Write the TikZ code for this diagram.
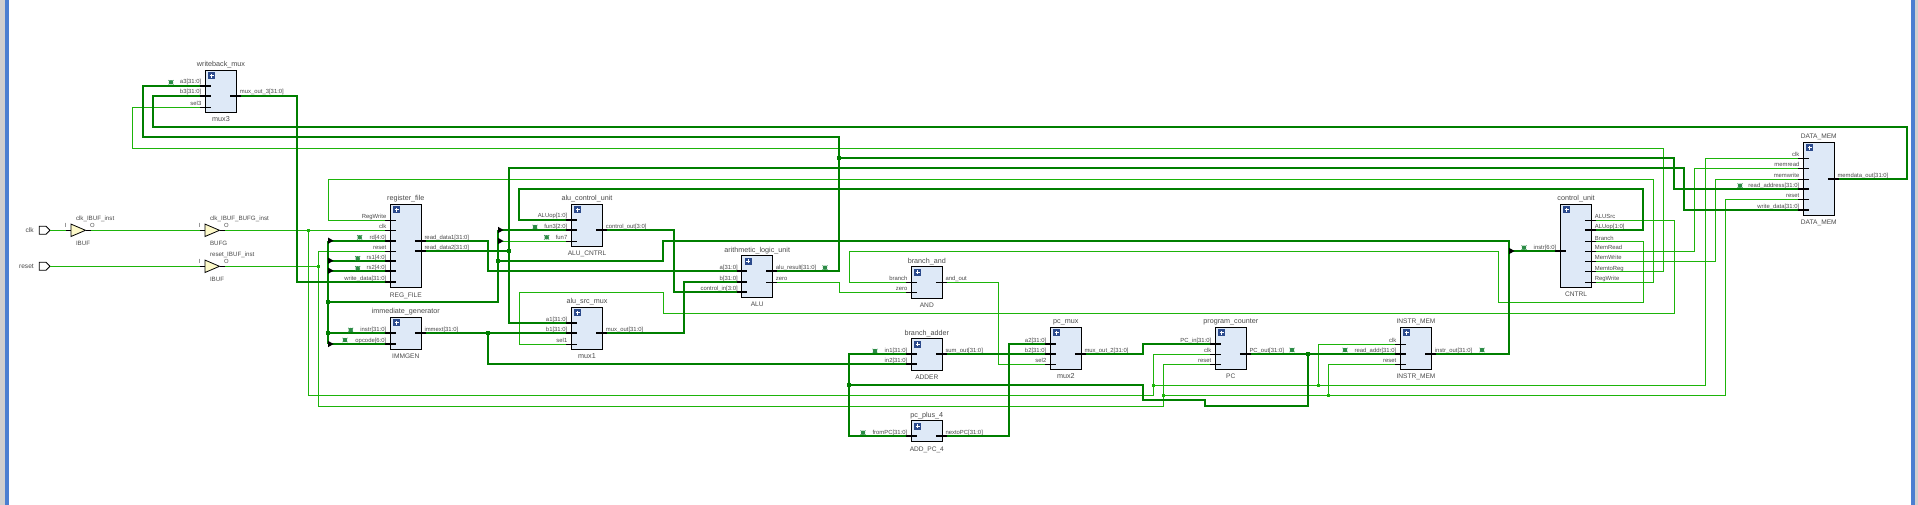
\documentclass[tikz,border=0pt]{standalone}
\usepackage{fontspec}
\setmainfont{Liberation Sans}
\definecolor{wthin}{HTML}{1DB40A}
\definecolor{wthick}{HTML}{007F00}
\definecolor{blockfill}{HTML}{DEE9F7}
\definecolor{plusfill}{HTML}{2B4A8C}
\definecolor{bufill}{HTML}{FDF9C9}
\definecolor{edgeblue}{HTML}{4B7FD1}
\definecolor{edgegray}{HTML}{CFCFCF}
\definecolor{txt}{HTML}{4A4A4A}
\definecolor{bugc}{HTML}{2C8C46}
\tikzset{
  wsig/.style={draw=wthin,line width=0.9pt},
  wbus/.style={draw=wthick,line width=1.95pt},
  sigstub/.style={draw=black,line width=0.75pt},
  busstub/.style={draw=black,line width=1.95pt},
  blockbox/.style={draw=black,fill=blockfill,line width=0.9pt,inner sep=0pt,outer sep=0pt},
  plusbox/.style={fill=plusfill,minimum size=7pt,inner sep=0pt,outer sep=0pt},
  pinlabel/.style={text=txt,inner sep=0pt,outer sep=0pt,font=\fontsize{5.9}{6}\selectfont},
  titlelabel/.style={text=txt,inner sep=0pt,outer sep=0pt,font=\fontsize{7.2}{8}\selectfont},
  jsig/.style={fill=wthin,minimum size=3pt,inner sep=0pt,outer sep=0pt},
  jbus/.style={fill=wthick,minimum size=4pt,inner sep=0pt,outer sep=0pt},
  bugdot/.style={circle,fill=bugc,minimum size=4.4pt,inner sep=0pt,outer sep=0pt},
}
% block: name,x1,y1,x2,y2,title,bottom
\newcommand\blockat[7]{%
  \node[blockbox,minimum width={(#4-#2)*1pt},minimum height={(#5-#3)*1pt}] (#1) at ({(#2+#4)/2},{(#3+#5)/2}) {};
  \node[plusbox] (#1-plus) at (#2+6.5,#3+5.5) {};
  \draw[white,line width=1pt] (#2+4.3,#3+5.5) -- (#2+8.7,#3+5.5) (#2+6.5,#3+3.3) -- (#2+6.5,#3+7.7);
  \node[titlelabel,anchor=base] (#1-title) at ({(#2+#4)/2},#3-3.5) {#6};
  \node[titlelabel,anchor=base] (#1-name) at ({(#2+#4)/2},#5+9.5) {#7};
}
\newcommand\capsname[1]{{\fontsize{6.6}{8}\selectfont #1}}
% pin on left: coordinate,edge,y,label,kind
\newcommand\pinL[5]{%
  \coordinate (#1) at (#2-5,#3);
  \draw[#5stub] (#2-5,#3) -- (#2+5.5,#3);
  \node[pinlabel,anchor=base east] (#1-label) at (#2-4,#3-1.7) {#4};
}
\newcommand\pinR[5]{%
  \coordinate (#1) at (#2+4.5,#3);
  \draw[#5stub] (#2-6.5,#3) -- (#2+4.5,#3);
  \node[pinlabel,anchor=base west] (#1-label) at (#2+3.2,#3-1.7) {#4};
}
\newcommand\debugbug[3]{%
  \draw[bugc,line width=0.7pt] (#2-2.5,#3-2.2) -- (#2+2.5,#3+2.2) (#2-2.5,#3+2.2) -- (#2+2.5,#3-2.2);
  \node[bugdot] (#1) at (#2,#3) {};
}
\newcommand\ripper[2]{%
  \fill[black] (#1,#2-3.2) -- (#1+5.5,#2) -- (#1,#2+3.2) -- cycle;
}
% buffer: name,x,y,title,bottom
\newcommand\bufsym[5]{%
  \coordinate (#1i) at (#2-5,#3);
  \coordinate (#1o) at (#2+20,#3);
  \draw[sigstub] (#2-5,#3) -- (#2,#3) (#2+14.5,#3) -- (#2+20,#3);
  \draw[draw=black,fill=bufill,line width=0.8pt,line join=miter] (#2,#3-6.2) -- (#2+14.5,#3) -- (#2,#3+6.2) -- cycle;
  \node[pinlabel,anchor=center] (#1-i) at (#2-5.3,#3-5.3) {I};
  \node[pinlabel,anchor=center] (#1-o) at (#2+21.3,#3-5.3) {O};
  \node[pinlabel,anchor=base west,font=\fontsize{6.2}{7}\selectfont] (#1-title) at (#2+5,#3-9.7) {#4};
  \node[pinlabel,anchor=base west,font=\fontsize{6.2}{7}\selectfont] (#1-name) at (#2+5,#3+15) {#5};
}
% input port: name,y,label
\newcommand\inport[3]{%
  \draw[black,fill=white,line width=0.8pt] (39.3,#2-4) -- (46,#2-4) -- (50,#2) -- (46,#2+4) -- (39.3,#2+4) -- cycle;
  \coordinate (#1) at (50,#2);
  \node[pinlabel,anchor=east,font=\fontsize{6.6}{7}\selectfont] (#1-label) at (33.8,#2+0.3) {#3};
}
\begin{document}
\begin{tikzpicture}[x=1pt,y=-1pt]
\useasboundingbox (0,0) rectangle (1918,505);
\fill[white] (0,0) rectangle (1918,505);
\fill[edgegray] (0,0) rectangle (5,505);
\fill[edgeblue] (5,0) rectangle (9,505);
\fill[edgeblue] (1911,0) rectangle (1915,505);
\fill[edgegray] (1915,0) rectangle (1918,505);

% blocks
\blockat{mux3}{205.3}{70.3}{236.7}{112.3}{writeback\_mux}{mux3}
\blockat{rf}{390.3}{204.3}{421.3}{287.7}{register\_file}{\capsname{REG\_FILE}}
\blockat{ig}{390.3}{317.3}{421.3}{349.3}{immediate\_generator}{\capsname{IMMGEN}}
\blockat{ac}{571.3}{204.3}{602.7}{246.3}{alu\_control\_unit}{\capsname{ALU\_CNTRL}}
\blockat{mux1}{571.3}{307.3}{602.7}{349.3}{alu\_src\_mux}{mux1}
\blockat{alu}{741.7}{255.7}{772.7}{297.3}{arithmetic\_logic\_unit}{\capsname{ALU}}
\blockat{and}{911.3}{266.7}{942.3}{298.3}{branch\_and}{\capsname{AND}}
\blockat{add}{911.3}{338.7}{942.3}{370.3}{branch\_adder}{\capsname{ADDER}}
\blockat{pcp}{911.3}{420.7}{942.3}{441.7}{pc\_plus\_4}{\capsname{ADD\_PC\_4}}
\blockat{mux2}{1050.3}{327.3}{1081.3}{369.3}{pc\_mux}{mux2}
\blockat{pc}{1215.3}{327.3}{1246.3}{369.3}{program\_counter}{\capsname{PC}}
\blockat{im}{1400.3}{327.3}{1431.7}{369.3}{\capsname{INSTR\_MEM}}{\capsname{INSTR\_MEM}}
\blockat{cu}{1560.3}{204.3}{1591.7}{287.3}{control\_unit}{\capsname{CNTRL}}
\blockat{dm}{1803.3}{142.3}{1834.3}{215.3}{\capsname{DATA\_MEM}}{\capsname{DATA\_MEM}}

% buffers and ports
\bufsym{ibc}{71}{230.3}{clk\_IBUF\_inst}{IBUF}
\bufsym{bg}{205}{230.3}{clk\_IBUF\_BUFG\_inst}{BUFG}
\bufsym{ibr}{205}{266.3}{reset\_IBUF\_inst}{IBUF}
\inport{clkin}{230.3}{clk}
\inport{rstin}{266.3}{reset}

% pins
\pinL{mta}{205.3}{85.7}{a3[31:0]}{bus}
\pinL{mtb}{205.3}{95.7}{b3[31:0]}{bus}
\pinL{mts}{205.3}{107.3}{sel3}{sig}
\pinR{mto}{236.7}{95.7}{mux\_out\_3[31:0]}{bus}

\pinL{rfrw}{390.3}{220.3}{RegWrite}{sig}
\pinL{rfclk}{390.3}{230.3}{clk}{sig}
\pinL{rfrd}{390.3}{240.7}{rd[4:0]}{bus}
\pinL{rfrst}{390.3}{251.3}{reset}{sig}
\pinL{rfrsa}{390.3}{260.7}{rs1[4:0]}{bus}
\pinL{rfrsb}{390.3}{270.7}{rs2[4:0]}{bus}
\pinL{rfwd}{390.3}{281.7}{write\_data[31:0]}{bus}
\pinR{rfra}{421.3}{240.7}{read\_data1[31:0]}{bus}
\pinR{rfrb}{421.3}{250.7}{read\_data2[31:0]}{bus}

\pinL{igi}{390.3}{333}{instr[31:0]}{bus}
\pinL{igop}{390.3}{344}{opcode[6:0]}{bus}
\pinR{igo}{421.3}{333}{immext[31:0]}{bus}

\pinL{acop}{571.3}{219.7}{ALUop[1:0]}{bus}
\pinL{acfa}{571.3}{230}{fun3[2:0]}{bus}
\pinL{acfb}{571.3}{241}{fun7}{sig}
\pinR{aco}{602.7}{230}{control\_out[3:0]}{bus}

\pinL{moa}{571.3}{323}{a1[31:0]}{bus}
\pinL{mob}{571.3}{333}{b1[31:0]}{bus}
\pinL{mos}{571.3}{344.3}{sel1}{sig}
\pinR{moo}{602.7}{333}{mux\_out[31:0]}{bus}

\pinL{alua}{741.7}{270.7}{a[31:0]}{bus}
\pinL{alub}{741.7}{281.7}{b[31:0]}{bus}
\pinL{aluc}{741.7}{292}{control\_in[3:0]}{bus}
\pinR{alur}{772.7}{270.7}{alu\_result[31:0]}{bus}
\pinR{aluz}{772.7}{282.3}{zero}{sig}

\pinL{andb}{911.3}{282.3}{branch}{sig}
\pinL{andz}{911.3}{292.3}{zero}{sig}
\pinR{ando}{942.3}{282.3}{and\_out}{sig}

\pinL{adda}{911.3}{354}{in1[31:0]}{bus}
\pinL{addb}{911.3}{364}{in2[31:0]}{bus}
\pinR{addo}{942.3}{354}{sum\_out[31:0]}{bus}

\pinL{pcpi}{911.3}{436}{fromPC[31:0]}{bus}
\pinR{pcpo}{942.3}{436}{nextoPC[31:0]}{bus}

\pinL{mwa}{1050.3}{344}{a2[31:0]}{bus}
\pinL{mwb}{1050.3}{354}{b2[31:0]}{bus}
\pinL{mws}{1050.3}{364.3}{sel2}{sig}
\pinR{mwo}{1081.3}{354}{mux\_out\_2[31:0]}{bus}

\pinL{pcin}{1215.3}{344}{PC\_in[31:0]}{bus}
\pinL{pcclk}{1215.3}{354.3}{clk}{sig}
\pinL{pcrst}{1215.3}{364.3}{reset}{sig}
\pinR{pco}{1246.3}{353.7}{PC\_out[31:0]}{bus}

\pinL{imclk}{1400.3}{344.3}{clk}{sig}
\pinL{imaddr}{1400.3}{353.7}{read\_addr[31:0]}{bus}
\pinL{imrst}{1400.3}{364.3}{reset}{sig}
\pinR{imo}{1431.7}{353.7}{instr\_out[31:0]}{bus}

\pinL{cui}{1560.3}{251}{instr[6:0]}{bus}
\pinR{cusrc}{1591.7}{220.3}{ALUSrc}{sig}
\pinR{cuop}{1591.7}{230}{ALUop[1:0]}{bus}
\pinR{cubr}{1591.7}{241.7}{Branch}{sig}
\pinR{cumr}{1591.7}{251.3}{MemRead}{sig}
\pinR{cumw}{1591.7}{261.3}{MemWrite}{sig}
\pinR{cumtr}{1591.7}{271.7}{MemtoReg}{sig}
\pinR{curw}{1591.7}{282.3}{RegWrite}{sig}

\pinL{dmclk}{1803.3}{158.3}{clk}{sig}
\pinL{dmmr}{1803.3}{168.3}{memread}{sig}
\pinL{dmmw}{1803.3}{179.3}{memwrite}{sig}
\pinL{dmaddr}{1803.3}{189}{read\_address[31:0]}{bus}
\pinL{dmrst}{1803.3}{199.3}{reset}{sig}
\pinL{dmwd}{1803.3}{210}{write\_data[31:0]}{bus}
\pinR{dmo}{1834.3}{179}{memdata\_out[31:0]}{bus}

% junction coordinates
\coordinate (jclk) at (308.3,230.3);
\coordinate (jrst) at (318.3,266.3);
\coordinate (jpca) at (1153.3,385.3);
\coordinate (jpcb) at (1163.3,395.3);
\coordinate (jima) at (1318.3,385.3);
\coordinate (jimb) at (1328.3,395.3);
\coordinate (jls) at (328,301.7);
\coordinate (jlt) at (328,333);
\coordinate (jfu) at (498,260.7);
\coordinate (jrd) at (508.7,250.7);
\coordinate (jim) at (488,333);
\coordinate (jpn) at (849,385);
\coordinate (jpo) at (1308.3,353.7);
\coordinate (jar) at (839,157.7);

% thin wires
\draw[wsig] (clkin) -- (ibci);
\draw[wsig] (ibco) -- (bgi);
\draw[wsig] (bgo) -- (rfclk);
\draw[wsig] (rstin) -- (ibri);
\draw[wsig] (ibro) -- (jrst);
\draw[wsig] (jclk) -- (308.3,395.3) -- (1153.3,395.3) -- (1153.3,354.3) -- (pcclk);
\draw[wsig] (jpca) -- (1705.3,385.3) -- (1705.3,158.3) -- (dmclk);
\draw[wsig] (jima) -- (1318.3,344.3) -- (imclk);
\draw[wsig] (rfrst) -- (318.3,251.3) -- (318.3,406.3) -- (1163.3,406.3) -- (1163.3,364.3) -- (pcrst);
\draw[wsig] (jpcb) -- (1725.7,395.3) -- (1725.7,199.3) -- (dmrst);
\draw[wsig] (jimb) -- (1328.3,364.3) -- (imrst);
\draw[wsig] (mts) -- (132.5,107.3) -- (132.5,148.3) -- (1663,148.3) -- (1663,271.7) -- (cumtr);
\draw[wsig] (rfrw) -- (328.3,220.3) -- (328.3,179.3) -- (1653.3,179.3) -- (1653.3,282.3) -- (curw);
\draw[wsig] (cubr) -- (1643,241.7) -- (1643,302.3) -- (1498.3,302.3) -- (1498.3,251.3) -- (849.3,251.3) -- (849.3,282.3) -- (andb);
\draw[wsig] (cusrc) -- (1674.7,220.3) -- (1674.7,313.5) -- (663.3,313.5) -- (663.3,292.3) -- (519.7,292.3) -- (519.7,344.3) -- (mos);
\draw[wsig] (cumr) -- (1694.3,251.3) -- (1694.3,168.3) -- (dmmr);
\draw[wsig] (cumw) -- (1715.7,261.3) -- (1715.7,179.3) -- (dmmw);
\draw[wsig] (ando) -- (998.3,282.3) -- (998.3,364.3) -- (mws);
\draw[wsig] (aluz) -- (839.3,282.3) -- (839.3,292.3) -- (andz);
\draw[wsig] (498,241) -- (acfb);

% thick wires
\draw[wbus] (alur) -- (839,270.7) -- (839,137.2) -- (143,137.2) -- (143,85.7) -- (mta);
\draw[wbus] (jar) -- (1674,157.7) -- (1674,189) -- (dmaddr);
\draw[wbus] (dmo) -- (1906.7,179) -- (1906.7,127) -- (153,127) -- (153,95.7) -- (mtb);
\draw[wbus] (mto) -- (296.7,95.7) -- (296.7,281.7) -- (rfwd);
\draw[wbus] (rfrb) -- (jrd);
\draw[wbus] (moa) -- (508.7,323) -- (508.7,167.7) -- (1684,167.7) -- (1684,210) -- (dmwd);
\draw[wbus] (cuop) -- (1643,230) -- (1643,189) -- (519,189) -- (519,219.7) -- (acop);
\draw[wbus] (328,240.7) -- (rfrd);
\draw[wbus] (328,260.7) -- (rfrsa);
\draw[wbus] (328,270.7) -- (rfrsb);
\draw[wbus] (jlt) -- (igi);
\draw[wbus] (328,344) -- (igop);
\draw[wbus] (328,240.7) -- (328,344);
\draw[wbus] (jls) -- (498,301.7) -- (498,230);
\draw[wbus] (498,230) -- (acfa);
\draw[wbus] (imo) -- (1509,353.7) -- (1509,241) -- (663,241) -- (663,260.7) -- (jfu);
\draw[wbus] (1509,251) -- (cui);
\draw[wbus] (igo) -- (mob);
\draw[wbus] (jim) -- (488,364) -- (addb);
\draw[wbus] (rfra) -- (488,240.7) -- (488,270.7) -- (alua);
\draw[wbus] (aco) -- (674,230) -- (674,292) -- (aluc);
\draw[wbus] (moo) -- (684,333) -- (684,281.7) -- (alub);
\draw[wbus] (adda) -- (849,354) -- (849,436) -- (pcpi);
\draw[wbus] (pcpo) -- (1009,436) -- (1009,344) -- (mwa);
\draw[wbus] (addo) -- (mwb);
\draw[wbus] (mwo) -- (1143,354) -- (1143,344) -- (pcin);
\draw[wbus] (pco) -- (imaddr);
\draw[wbus] (jpo) -- (1308.3,405.7) -- (1205,405.7) -- (1205,400) -- (1143,400) -- (1143,385) -- (jpn);

% junction dots
\foreach \n in {jclk,jrst,jpca,jpcb,jima,jimb}{\node[jsig] (\n-dot) at (\n) {};}
\foreach \n in {jls,jlt,jfu,jrd,jim,jpn,jpo,jar}{\node[jbus] (\n-dot) at (\n) {};}

% rippers
\ripper{328}{240.7}
\ripper{328}{260.7}
\ripper{328}{270.7}
\ripper{328}{344}
\ripper{498}{230}
\ripper{498}{241}
\ripper{1509}{251}

% debug markers
\debugbug{dba}{171}{82.3}
\debugbug{dbb}{359.7}{237.3}
\debugbug{dbc}{357.7}{258.3}
\debugbug{dbd}{357.7}{268.3}
\debugbug{dbe}{350.7}{330}
\debugbug{dbf}{345}{340}
\debugbug{dbg}{535}{227}
\debugbug{dbh}{546.7}{237.3}
\debugbug{dbi}{825}{267.7}
\debugbug{dbj}{875}{351}
\debugbug{dbk}{863}{432.7}
\debugbug{dbl}{1292}{350}
\debugbug{dbm}{1345}{350}
\debugbug{dbn}{1482}{350}
\debugbug{dbo}{1524}{247.7}
\debugbug{dbp}{1740}{185.7}
\end{tikzpicture}
\end{document}
